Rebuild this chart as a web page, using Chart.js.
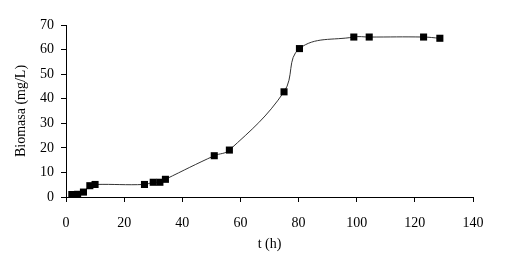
<!DOCTYPE html>
<html>
<head>
<meta charset="utf-8">
<script src="https://cdn.jsdelivr.net/npm/chart.js@4/dist/chart.umd.min.js"></script>
<style>
  html, body { margin: 0; padding: 0; background: #fff; }
  #wrap { width: 505px; height: 265px; }
</style>
</head>
<body>
<div id="wrap"><canvas id="myChart"></canvas></div>
<script>
const tiempo = [2, 4, 6, 8.2, 10, 27, 30, 32.3, 34.2, 51, 56.2, 75, 80.3, 99, 104.3, 123, 128.6]
const biomasa = [1, 1.1, 2, 4.6, 5.1, 5.1, 6, 6, 7.2, 16.8, 19.1, 42.8, 60.4, 65.1, 65.1, 65.1, 64.6]

const xTitle = 't (h)'
const yTitle = 'Biomasa (mg/L)'

const canvas = document.getElementById('myChart')
const font = { family: '"Liberation Serif", "Times New Roman", serif', size: 14 }

const config = {
    type: 'scatter',
    data: {
        datasets: [{
            data: tiempo.map((t, i) => ({ x: t, y: biomasa[i] })),
            showLine: true,
            borderColor: '#333',
            borderWidth: 1,
            tension: 0.4,
            pointStyle: 'rect',
            pointRadius: 5,
            pointHoverRadius: 5,
            backgroundColor: '#000',
            pointBorderColor: '#000',
            pointBorderWidth: 0
        }]
    },
    options: {
        responsive: true,
        maintainAspectRatio: false,
        animation: false,
        plugins: { legend: { display: false }, tooltip: { enabled: false } },
        layout: { padding: { left: 0, top: 25, right: 32, bottom: 0 } },
        scales: {
            x: {
                type: 'linear',
                min: 0,
                max: 140,
                grid: { drawOnChartArea: false, drawTicks: true, tickLength: 5, color: '#000' },
                border: { color: '#000', width: 1 },
                ticks: { stepSize: 20, color: '#000', font: font, padding: 13, maxRotation: 0 },
                title: { display: true, text: xTitle, color: '#000', font: font, padding: { top: 0, bottom: 12 } },
                afterFit: (s) => { s.height = 68 }
            },
            y: {
                min: 0,
                max: 70,
                grid: { drawOnChartArea: false, drawTicks: true, tickLength: 5, color: '#000' },
                border: { color: '#000', width: 1 },
                ticks: { stepSize: 10, color: '#000', font: font, padding: 7 },
                title: { display: true, text: yTitle, color: '#000', font: font, padding: { top: 13, bottom: 0 } },
                afterFit: (s) => { s.width = 66 }
            }
        }
    }
}

const myChart = new Chart(canvas, config)
</script>
</body>
</html>
